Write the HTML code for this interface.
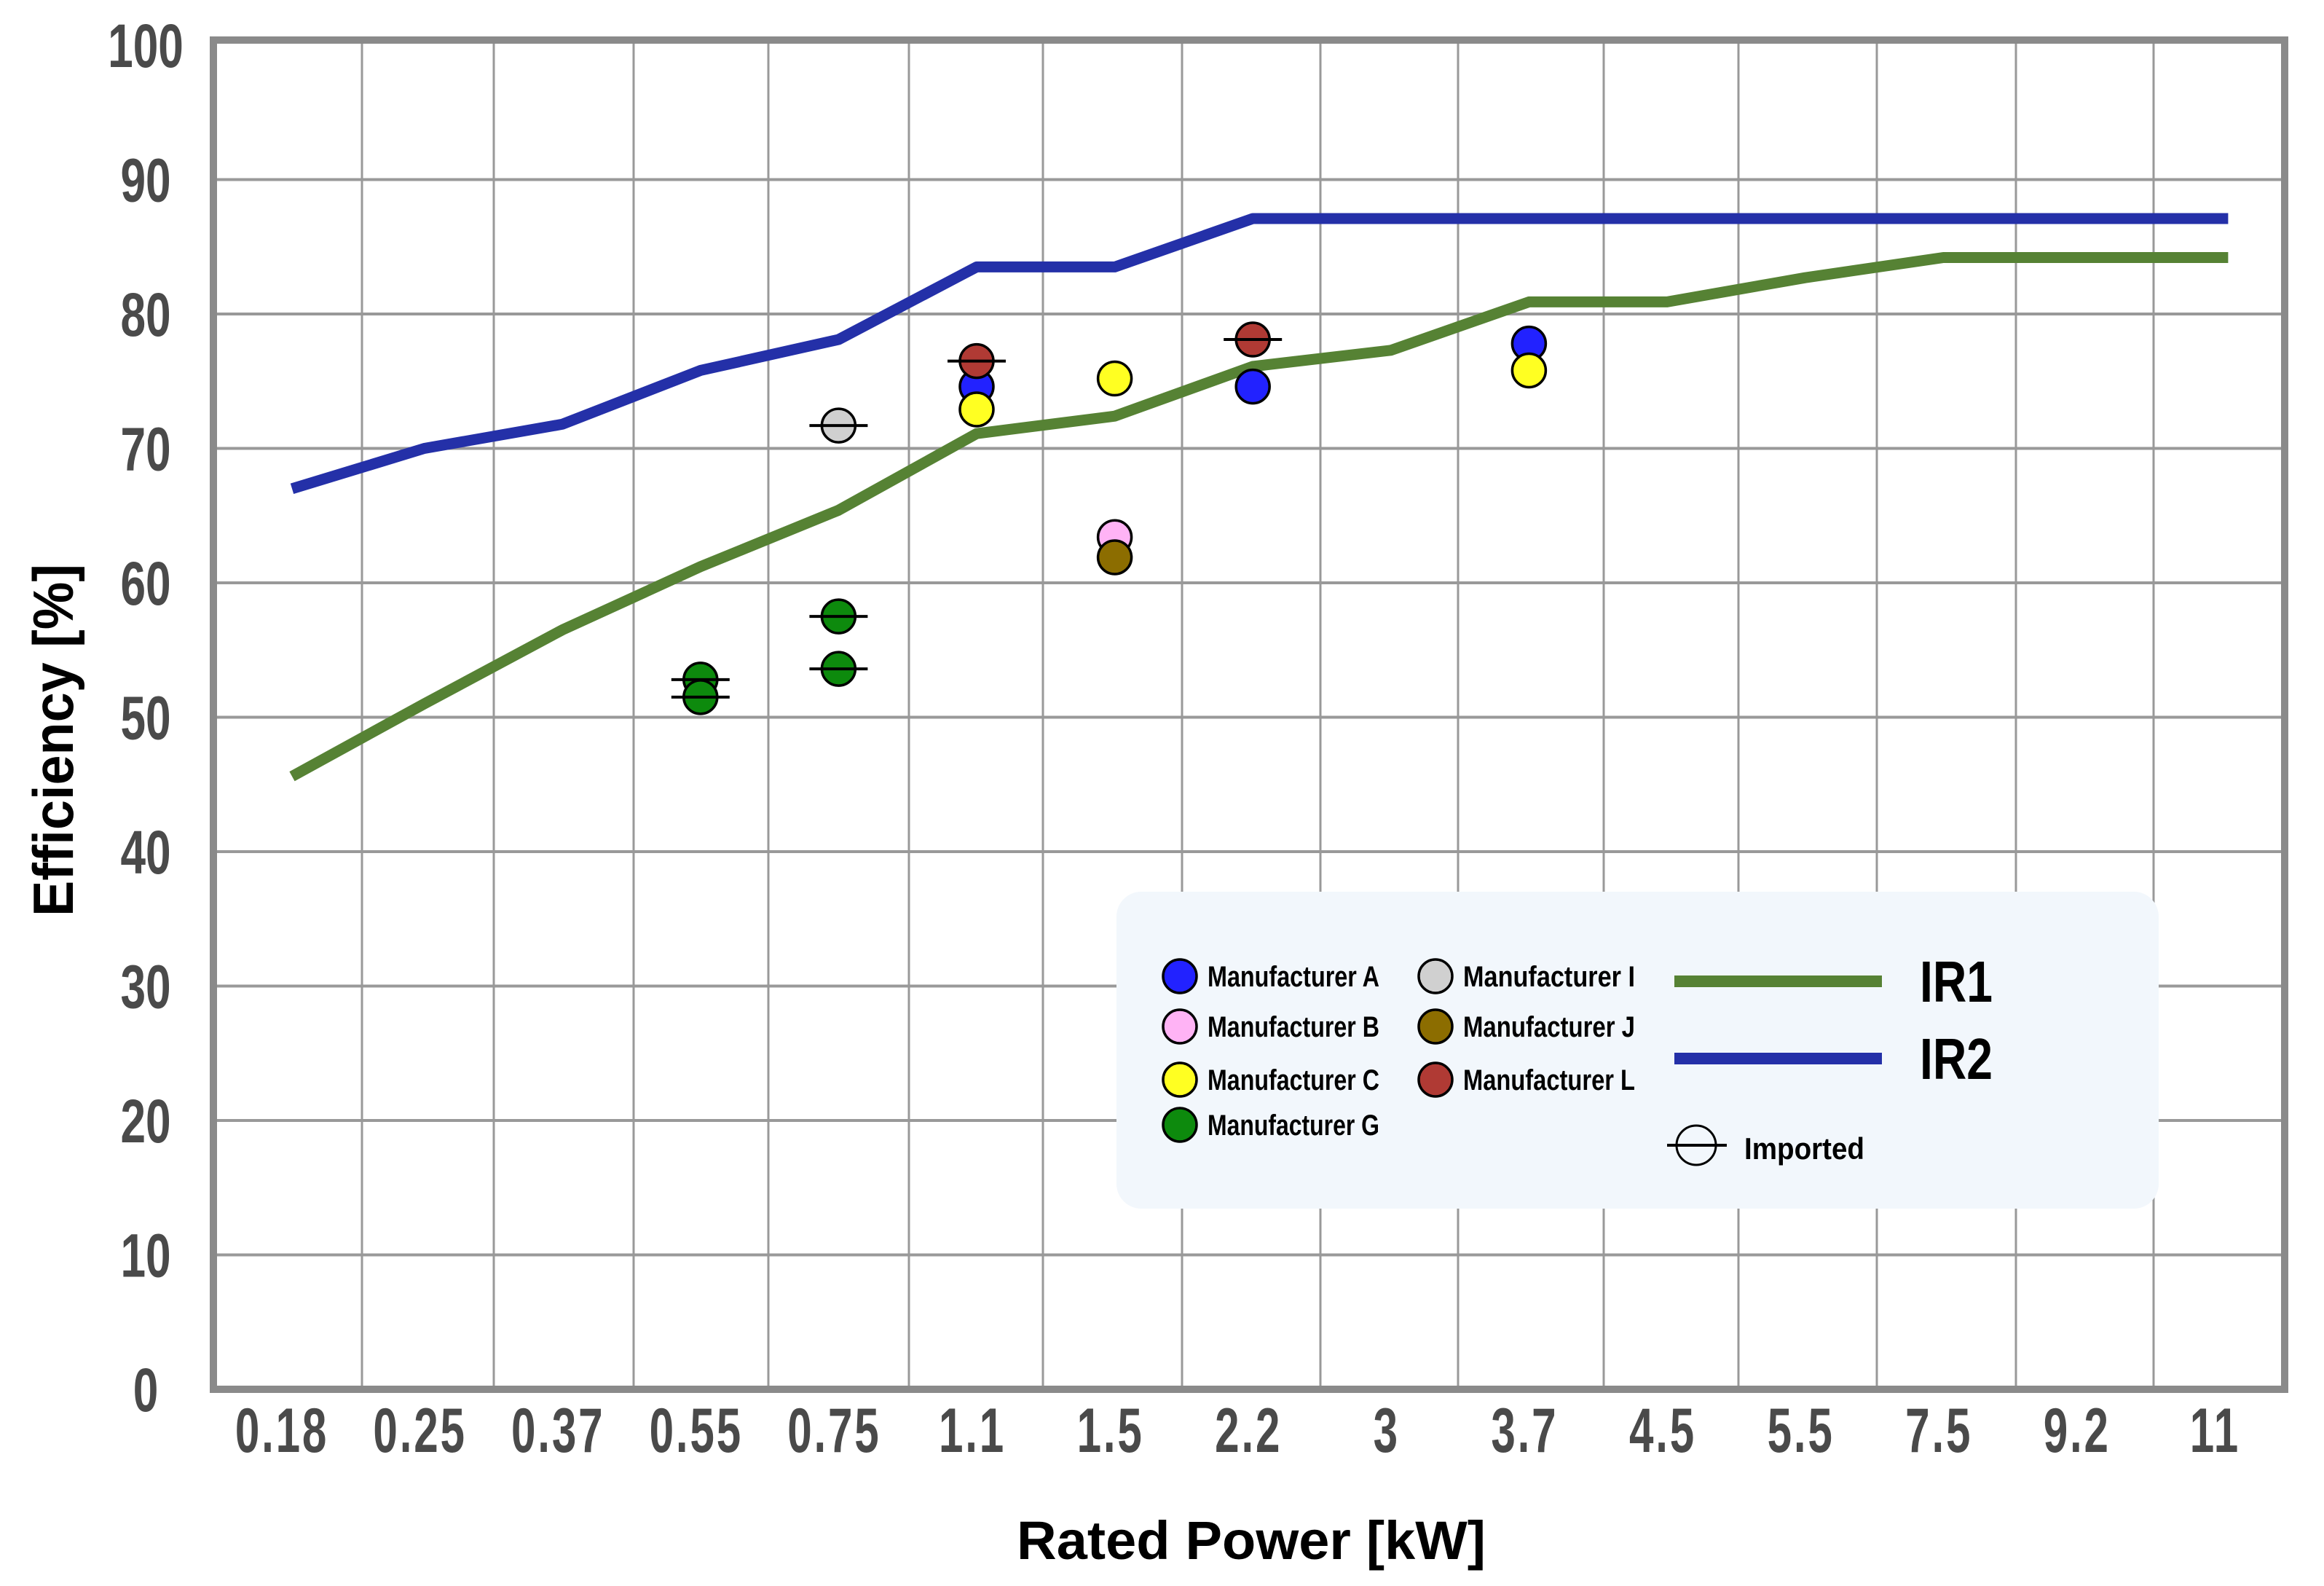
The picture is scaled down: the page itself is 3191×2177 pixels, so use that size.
<!DOCTYPE html>
<html><head><meta charset="utf-8">
<style>
html,body{margin:0;padding:0;background:#fff;}
svg{display:block;}
.tick{font-family:"Liberation Sans",sans-serif;font-weight:bold;fill:#4a4a4a;}
.leg{font-family:"Liberation Sans",sans-serif;font-weight:bold;fill:#000;}
.title{font-family:"Liberation Sans",sans-serif;font-weight:bold;fill:#000;}
</style></head>
<body>
<svg id="chart" width="3191" height="2177" viewBox="0 0 3191 2177" xmlns="http://www.w3.org/2000/svg">
<g id="grid"></g>
<g id="lines"></g>
<g id="points"></g>
<rect x="293" y="55" width="2844" height="1852" fill="none" stroke="#8a8a8a" stroke-width="10"/>
<g id="yticks"></g>
<g id="xticks"></g>
<text class="title" transform="translate(100,1016) rotate(-90)" text-anchor="middle" font-size="78" textLength="484" lengthAdjust="spacingAndGlyphs">Efficiency [%]</text>
<text class="title" x="1718" y="2140" text-anchor="middle" font-size="74" textLength="644" lengthAdjust="spacingAndGlyphs">Rated Power [kW]</text>

<g>
<rect x="1533" y="1224" width="1431" height="435" rx="34" fill="#f2f7fc"/>
<g id="legendEntries"></g>
<line x1="2299" y1="1347" x2="2584" y2="1347" stroke="#568234" stroke-width="16"/>
<text class="leg" x="2636" y="1375" font-size="80" textLength="100" lengthAdjust="spacingAndGlyphs">IR1</text>
<line x1="2299" y1="1453" x2="2584" y2="1453" stroke="#2430a8" stroke-width="16"/>
<text class="leg" x="2636" y="1481" font-size="80" textLength="100" lengthAdjust="spacingAndGlyphs">IR2</text>
<circle cx="2329" cy="1572" r="27" fill="none" stroke="#000" stroke-width="3"/>
<line x1="2289" y1="1572" x2="2371" y2="1572" stroke="#000" stroke-width="4"/>
<text class="leg" x="2395" y="1591" font-size="42" textLength="165" lengthAdjust="spacingAndGlyphs">Imported</text>
</g>
</svg>
<script>
const categories = ["0.18","0.25","0.37","0.55","0.75","1.1","1.5","2.2","3","3.7","4.5","5.5","7.5","9.2","11"];
const yTicks = [0,10,20,30,40,50,60,70,80,90,100];
const ir1Values = [45.6,51,56.5,61.2,65.4,71.1,72.4,76.1,77.3,80.9,80.9,82.7,84.2,84.2,84.2];
const ir2Values = [67.0,70.0,71.8,75.8,78.1,83.5,83.5,87.1,87.1,87.1,87.1,87.1,87.1,87.1,87.1];
const pointCategory = ["0.55","0.55","0.75","0.75","0.75","1.1","1.1","1.1","1.5","1.5","1.5","2.2","2.2","3.7","3.7"];
const pointValue =    [52.8,51.5,57.5,53.6,71.7,74.6,72.9,76.5,63.4,61.9,75.2,78.1,74.6,77.8,75.8];
const pointMaker =    ["G","G","G","G","I","A","C","L","B","J","C","L","A","A","C"];
const pointImported = [1,1,1,1,1,0,0,1,0,0,0,1,0,0,0];
const makerNames = ["A","B","C","G","I","J","L"];
const makerColors = ["#2222ff","#ffb3f5","#ffff22","#0d8a0d","#d0d0d0","#8c6d00","#b03a34"];

const NS="http://www.w3.org/2000/svg";
function el(tag,attrs,parent){const e=document.createElementNS(NS,tag);for(const k in attrs)e.setAttribute(k,attrs[k]);parent.appendChild(e);return e;}
function xPos(cat){return 387+categories.indexOf(cat)*189.6+6;}
function yPos(v){return 1907-v*18.45;}

const grid=document.getElementById('grid');
const gridXs=[497,678,870,1055,1248,1432,1623,1813,2002,2202,2387,2577,2768,2957];
gridXs.forEach(function(x){
  const l=el('line',{x1:x,y1:55,x2:x,y2:1907,stroke:'#999',"stroke-width":3},grid);
  
  
});
yTicks.forEach(function(t){
  if(t>0&&t<100){
    const l=el('line',{x1:293,y1:yPos(t),x2:3137,y2:yPos(t),stroke:'#999',"stroke-width":4},grid);
    
    
  }
  const tx=el('text',{x:0,y:0,"text-anchor":"middle","font-size":84,class:'tick',transform:'translate(200,'+(yPos(t)+30)+') scale(0.74,1)'},document.getElementById('yticks'));
  tx.textContent=t;
  
  
});
categories.forEach(function(c){
  const tx=el('text',{x:0,y:0,"text-anchor":"middle","font-size":86,"letter-spacing":"4",class:'tick',transform:'translate('+(xPos(c)-6)+',1993) scale(0.7,1)'},document.getElementById('xticks'));
  tx.textContent=c;
  
  
});
function drawLine(vals,color,name){
  const pts=vals.map(function(v,i){return (xPos(categories[i])+ (i===0?8:0)+(i===vals.length-1?12:0))+','+yPos(v);}).join(' ');
  const p=el('polyline',{points:pts,fill:'none',stroke:color,"stroke-width":15,"stroke-linejoin":"round"},document.getElementById('lines'));
  
  
}
drawLine(ir1Values,'#568234','ir1-line');
drawLine(ir2Values,'#2430a8','ir2-line');

const pg=document.getElementById('points');
pointValue.forEach(function(v,i){
  const cx=xPos(pointCategory[i]), cy=yPos(v);
  const col=makerColors[makerNames.indexOf(pointMaker[i])];
  const c=el('circle',{cx:cx,cy:cy,r:23,fill:col,stroke:'#000',"stroke-width":3.5},pg);
  
  
  if(pointImported[i]){
    const l=el('line',{x1:cx-40,y1:cy,x2:cx+40,y2:cy,stroke:'#000',"stroke-width":4},pg);
    
    
  }
});

const lg=document.getElementById('legendEntries');
const legendLayout=[["A",1620,1340],["B",1620,1409],["C",1620,1482],["G",1620,1544],["I",1971,1340],["J",1971,1409],["L",1971,1482]];
legendLayout.forEach(function(e){
  const col=makerColors[makerNames.indexOf(e[0])];
  const c=el('circle',{cx:e[1],cy:e[2],r:23,fill:col,stroke:'#000',"stroke-width":3.5},lg);
  
  
  const t=el('text',{x:e[1]+38,y:e[2]+14,"font-size":40,class:'leg',textLength:236,lengthAdjust:'spacingAndGlyphs'},lg);
  t.textContent='Manufacturer '+e[0];
  
  
});
</script>
</body></html>
